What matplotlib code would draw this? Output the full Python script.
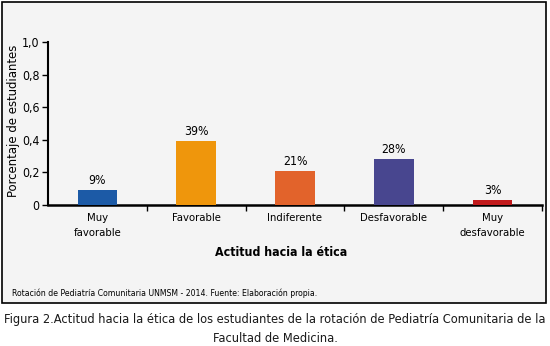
import matplotlib.pyplot as plt
from matplotlib.patches import Rectangle
import matplotlib.font_manager as fm

# datos
categorias = ["Muy\nfavorable", "Favorable", "Indiferente", "Desfavorable", "Muy\ndesfavorable"]
valores = [0.09, 0.39, 0.21, 0.28, 0.03]
etiquetas = ["9%", "39%", "21%", "28%", "3%"]
colores = ["#1c5aa6", "#ef960c", "#e2632b", "#48468f", "#c11a1c"]
yticks = [0, 0.2, 0.4, 0.6, 0.8, 1.0]
ytick_labels = ["0", "0,2", "0,4", "0,6", "0,8", "1,0"]

# buscar una fuente estrecha (preferir Liberation Sans Narrow)
archivos = sorted(f.fname for f in fm.fontManager.ttflist)
def limpia(lst):
    return [a for a in lst if "Oblique" not in a and "Italic" not in a]
lib = limpia([a for a in archivos if "LiberationSansNarrow" in a])
dej = limpia([a for a in archivos if "DejaVuSansCondensed" in a])
fuentes = lib or dej
if lib:
    esc = 1.0
elif dej:
    esc = 0.83
else:
    esc = 0.82
reg = [a for a in fuentes if "Bold" not in a]
neg = [a for a in fuentes if "Bold" in a]

def fp(s):
    if reg:
        return fm.FontProperties(fname=reg[0], size=s * esc)
    return fm.FontProperties(family="Liberation Sans", size=s * esc)

def fpb(s):
    if neg:
        return fm.FontProperties(fname=neg[0], size=s * esc)
    return fm.FontProperties(family="Liberation Sans", weight="bold", size=s * esc)

fig = plt.figure(figsize=(5.5, 3.46), dpi=100)
fig.patch.set_facecolor("white")

# recuadro del grafico
fig.patches.append(Rectangle((2 / 550, 1 - 303 / 346), 544 / 550, 301 / 346,
                             transform=fig.transFigure, facecolor="#f4f4f4",
                             edgecolor="black", linewidth=1.2, zorder=-5))

ax = fig.add_axes([48 / 550, 1 - 205 / 346, 494 / 550, 163 / 346])
ax.set_facecolor("none")

x = range(len(categorias))
ax.bar(x, valores, width=0.4, color=colores, zorder=3)
for xi, v, t in zip(x, valores, etiquetas):
    ax.text(xi, v + 0.02, t, ha="center", va="bottom", fontproperties=fp(10.6))

ax.set_xlim(-0.5, len(categorias) - 0.5)
ax.set_ylim(0, 1.0)
ax.set_yticks(yticks)
ax.set_yticklabels(ytick_labels, fontproperties=fp(10.6))
ax.set_xticks([i + 0.5 for i in range(len(categorias))])
ax.set_xticklabels([])
ax.set_xticks(list(x), minor=True)
ax.set_xticklabels(categorias, minor=True, fontproperties=fp(9.8), linespacing=1.6)
ax.tick_params(axis="x", which="minor", length=0, pad=6)
ax.tick_params(axis="x", which="major", length=4, width=1, direction="out")
ax.tick_params(axis="y", length=4, width=1, pad=2)

for s in ["top", "right"]:
    ax.spines[s].set_visible(False)
ax.spines["left"].set_linewidth(1.5)
ax.spines["bottom"].set_linewidth(1.8)

fig.text(14 / 550, 1 - 121 / 346, "Porcentaje de estudiantes", rotation=90,
         ha="center", va="center", fontproperties=fp(11.3))
fig.text(281 / 550, 1 - 253 / 346, "Actitud hacia la ética",
         ha="center", va="center", fontproperties=fpb(10.8))

fig.text(12 / 550, 1 - 293 / 346, "Rotación de Pediatría Comunitaria UNMSM - 2014. Fuente: Elaboración propia.",
         fontproperties=fp(7.5), ha="left", va="center")
fig.text(0.5, 1 - 320 / 346,
         "Figura 2.Actitud hacia la ética de los estudiantes de la rotación de Pediatría Comunitaria de la",
         fontproperties=fp(11.1), ha="center", va="center", color="#1a1a1a")
fig.text(0.5, 1 - 338 / 346, "Facultad de Medicina.",
         fontproperties=fp(11.1), ha="center", va="center", color="#1a1a1a")

fig.savefig("out.png", dpi=100)
